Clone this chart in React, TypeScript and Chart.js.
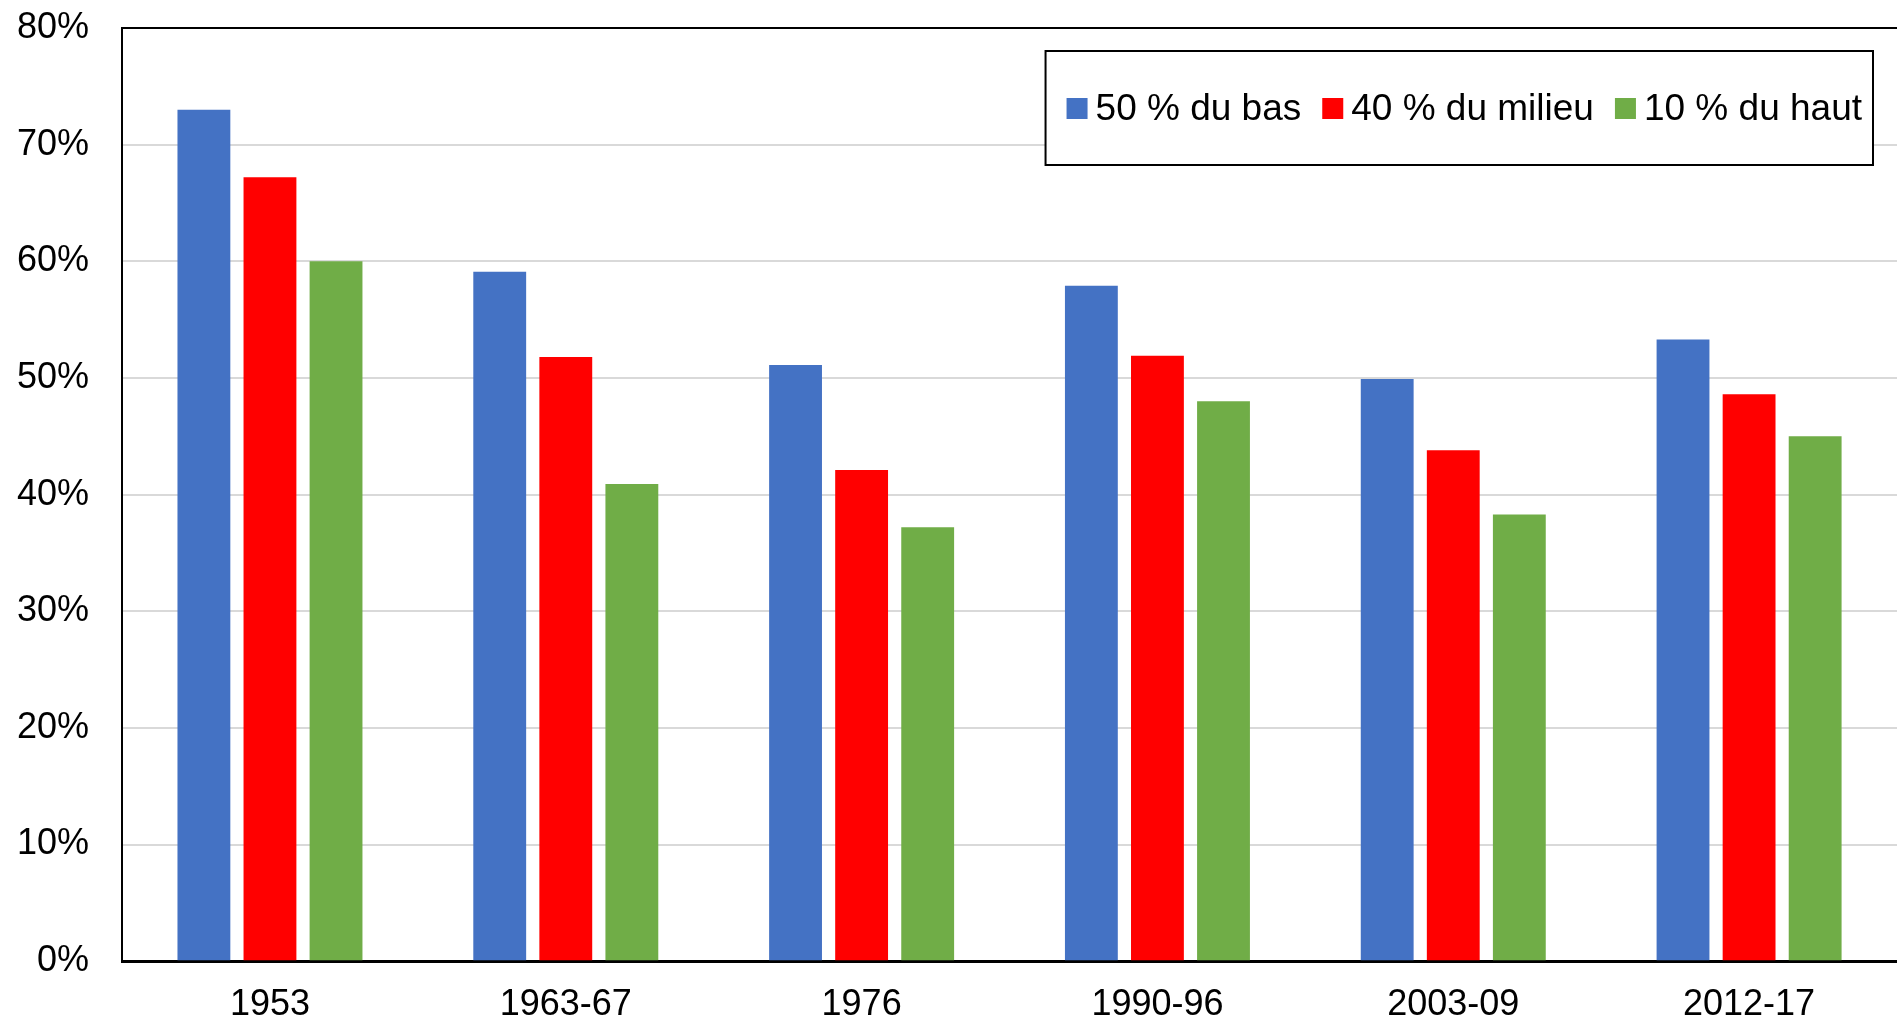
import React, { useEffect, useRef } from "react";
import { Chart, registerables } from "chart.js";

Chart.register(...registerables);

const categories = ["1953", "1963-67", "1976", "1990-96", "2003-09", "2012-17"];
const seriesNames = ["50 % du bas", "40 % du milieu", "10 % du haut"];
const bottom50 = [73.0, 59.1, 51.1, 57.9, 49.9, 53.3];
const middle40 = [67.2, 51.8, 42.1, 51.9, 43.8, 48.6];
const top10 = [60.0, 40.9, 37.2, 48.0, 38.3, 45.0];
const seriesColors = ["#4472C4", "#FF0000", "#70AD47"];
const yTicks = [0, 10, 20, 30, 40, 50, 60, 70, 80];

const FONT = "'Liberation Sans', Arial, sans-serif";

const boxLegendPlugin = {
  id: "boxLegend",
  afterDraw(chart: any) {
    const { ctx, chartArea } = chart;
    ctx.save();
    ctx.font = `37px ${FONT}`;
    const items = chart.data.datasets.map((d: any) => ({
      label: d.label,
      color: d.backgroundColor,
      w: ctx.measureText(d.label).width,
    }));
    const sw = 21;
    const gapSwText = 8;
    const gapItems = 21;
    const padL = 21;
    const padR = 11;
    let content = 0;
    items.forEach((it: any, i: number) => {
      content += sw + gapSwText + it.w + (i < items.length - 1 ? gapItems : 0);
    });
    const boxW = padL + content + padR;
    const boxH = 114;
    const right = chartArea.right - 24;
    const left = right - boxW;
    const top = chartArea.top + 23;
    ctx.fillStyle = "#ffffff";
    ctx.fillRect(left, top, boxW, boxH);
    ctx.strokeStyle = "#000000";
    ctx.lineWidth = 2;
    ctx.strokeRect(left, top, boxW, boxH);
    const cy = top + boxH / 2;
    let x = left + padL;
    ctx.textBaseline = "middle";
    ctx.textAlign = "left";
    items.forEach((it: any) => {
      ctx.fillStyle = it.color;
      ctx.fillRect(x, cy - 10, sw, sw);
      x += sw + gapSwText;
      ctx.fillStyle = "#000000";
      ctx.fillText(it.label, x, cy + 2);
      x += it.w + gapItems;
    });
    ctx.restore();
  },
};

const X_PAD = 25;
const Y_PAD = 33;

export default function App() {
  const canvasRef = useRef<HTMLCanvasElement | null>(null);

  useEffect(() => {
    if (!canvasRef.current) return;
    const data = [bottom50, middle40, top10];
    const chart = new Chart(canvasRef.current, {
      type: "bar",
      data: {
        labels: categories,
        datasets: seriesNames.map((name, i) => ({
          label: name,
          data: data[i],
          backgroundColor: seriesColors[i],
          borderWidth: 0,
          categoryPercentage: 0.67,
          barPercentage: 0.8,
        })),
      },
      options: {
        animation: false,
        responsive: false,
        devicePixelRatio: 1,
        layout: { padding: { left: 17, top: 28, right: 0, bottom: 0 } },
        plugins: {
          legend: { display: false },
          tooltip: { enabled: false },
        },
        scales: {
          x: {
            afterFit: (s: any) => {
              s.paddingLeft = 0;
              s.paddingRight = 0;
              s.height = Math.max(0, s.height - X_PAD);
            },
            grid: { display: false, drawTicks: false },
            border: { display: true, color: "#000000", width: 3 },
            ticks: {
              color: "#000000",
              padding: X_PAD,
              font: { family: FONT, size: 36, lineHeight: 1.05 },
            },
          },
          y: {
            min: 0,
            max: 80,
            afterBuildTicks: (axis: any) => {
              axis.ticks = yTicks.map((v) => ({ value: v }));
            },
            afterFit: (s: any) => {
              s.paddingTop = 0;
              s.paddingBottom = 0;
              s.width = Math.max(0, s.width - Y_PAD);
            },
            grid: {
              drawTicks: false,
              tickLength: 0,
              lineWidth: 2,
              color: (c: any) => (c.tick && c.tick.value === 80 ? "#000000" : "#d9d9d9"),
            },
            border: { display: true, color: "#000000", width: 2 },
            ticks: {
              color: "#000000",
              padding: Y_PAD,
              font: { family: FONT, size: 36 },
              callback: (v: any) => `${v}%`,
            },
          },
        },
      },
      plugins: [boxLegendPlugin],
    });
    return () => chart.destroy();
  }, []);

  return (
    <div style={{ position: "fixed", left: 0, top: 0, width: 1897, height: 1024, background: "#fff" }}>
      <canvas ref={canvasRef} width={1897} height={1024} style={{ width: 1897, height: 1024 }} />
    </div>
  );
}
